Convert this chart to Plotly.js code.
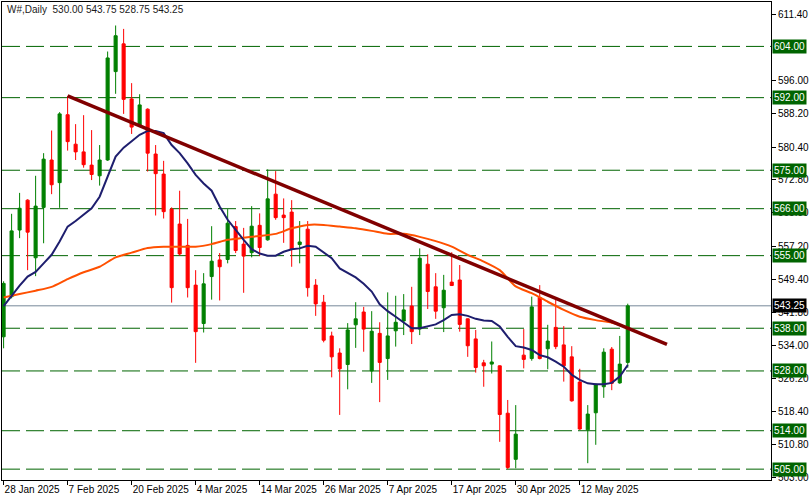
<!DOCTYPE html>
<html>
<head>
<meta charset="utf-8">
<script src="https://cdn.plot.ly/plotly-3.0.1.min.js"></script>
<style>html,body{margin:0;padding:0;background:#fff;}#chart{width:812px;height:501px;}</style>
</head>
<body>
<div id="chart"></div>
<script>
// ---- data ----
const dates = ["2025-01-28","2025-01-29","2025-01-30","2025-01-31","2025-02-03","2025-02-04","2025-02-05","2025-02-06","2025-02-07","2025-02-10",
"2025-02-11","2025-02-12","2025-02-13","2025-02-14","2025-02-18","2025-02-19","2025-02-20","2025-02-21","2025-02-24","2025-02-25",
"2025-02-26","2025-02-27","2025-02-28","2025-03-03","2025-03-04","2025-03-05","2025-03-06","2025-03-07","2025-03-10","2025-03-11",
"2025-03-12","2025-03-13","2025-03-14","2025-03-17","2025-03-18","2025-03-19","2025-03-20","2025-03-21","2025-03-24","2025-03-25",
"2025-03-26","2025-03-27","2025-03-28","2025-03-31","2025-04-01","2025-04-02","2025-04-03","2025-04-04","2025-04-07","2025-04-08",
"2025-04-09","2025-04-10","2025-04-11","2025-04-14","2025-04-15","2025-04-16","2025-04-17","2025-04-21","2025-04-22","2025-04-23",
"2025-04-24","2025-04-25","2025-04-28","2025-04-29","2025-04-30","2025-05-01","2025-05-02","2025-05-05","2025-05-06","2025-05-07",
"2025-05-08","2025-05-09","2025-05-12","2025-05-13","2025-05-14","2025-05-15","2025-05-16","2025-05-19","2025-05-20"];

const open  = [536.0,545.4,561.0,568.0,554.5,566.3,577.4,572.1,588.0,581.1,
579.3,576.2,573.7,577.4,598.1,604.6,591.7,585.6,589.3,578.8,
574.1,565.9,562.4,557.4,548.1,539.1,550.1,554.0,554.1,561.8,
557.7,555.7,562.1,558.7,569.4,564.5,565.2,557.6,561.2,548.1,
544.1,536.2,532.2,529.5,538.8,541.8,528.0,536.8,530.9,537.4,
539.7,543.2,537.8,553.0,547.7,542.8,548.8,549.3,540.2,535.5,
529.9,529.6,529.2,518.1,507.3,531.7,530.9,545.2,533.2,538.2,
534.1,531.3,525.4,514.2,518.2,524.3,533.1,525.2,530.00];
const high  = [549.0,564.8,569.7,568.2,573.7,579.0,584.3,588.6,592.4,585.8,
587.9,584.4,580.9,602.8,608.9,608.1,595.4,592.8,589.5,580.9,
577.2,566.3,570.2,563.6,551.6,550.9,561.9,555.6,565.9,563.1,
561.5,566.6,564.9,575.2,574.8,568.4,568.0,563.1,563.1,549.5,
545.8,537.2,533.3,539.2,544.1,543.0,542.0,539.4,546.4,545.6,
546.0,547.7,556.7,555.3,550.9,550.5,555.8,552.8,540.3,537.6,
530.6,534.9,529.3,521.2,520.0,537.8,545.4,548.1,538.8,544.8,
538.5,533.8,528.5,520.0,525.0,533.3,533.6,536.2,543.75];
const low   = [533.3,545.0,559.1,551.6,550.2,557.9,569.4,566.2,579.6,577.4,
575.6,572.7,571.4,577.2,592.9,588.2,583.5,585.3,574.7,564.4,
563.7,544.0,555.0,545.2,529.9,537.0,544.7,544.5,553.2,555.6,
546.3,554.6,554.9,558.5,563.4,558.0,552.4,553.2,545.4,540.9,
534.7,526.5,517.7,523.7,533.4,532.5,525.2,520.7,525.9,533.7,
536.4,534.3,536.4,542.5,540.2,537.1,548.0,537.2,531.3,527.6,
524.3,527.4,511.4,505.0,505.2,528.6,530.4,530.7,528.4,533.1,
525.5,520.8,514.2,506.4,510.7,521.7,523.5,525.0,528.75];
const close = [548.5,560.8,566.1,560.5,566.6,577.6,571.6,588.2,581.7,579.3,
576.3,574.0,577.4,601.3,606.5,591.6,585.1,590.3,579.0,574.2,
565.3,547.5,555.4,547.5,537.2,548.4,553.7,552.4,562.6,556.2,
554.9,561.9,556.9,568.3,563.9,563.9,556.5,558.2,547.5,543.7,
535.2,531.3,528.5,537.6,540.2,537.8,537.3,530.0,536.2,539.4,
542.3,537.2,554.4,546.6,542.0,546.9,548.0,538.9,533.9,528.8,
529.2,530.1,517.8,505.4,513.2,530.7,543.0,530.9,535.0,533.7,
529.2,521.0,514.4,517.9,524.9,532.4,525.1,529.6,543.25];

// fast moving average (navy), one value per bar
const maFast = [543.2,545.7,548.0,550.1,551.2,553.2,555.2,558.3,561.8,563.1,
564.7,566.1,568.8,573.5,578.2,580.3,581.7,583.3,584.2,584.2,
583.7,580.9,579.0,576.6,573.9,571.9,570.2,566.5,563.4,561.0,
558.7,556.5,555.5,555.0,555.0,555.9,556.5,556.7,557.3,557.1,
555.7,554.4,552.0,550.9,549.9,548.4,546.6,543.6,542.0,540.7,
539.4,538.0,538.0,538.4,538.9,539.9,541.1,541.3,540.9,540.2,
539.8,539.7,538.4,536.0,533.8,533.5,532.9,531.7,531.2,530.2,
529.0,527.1,525.9,525.1,524.9,524.9,525.2,526.7,529.4];

// slow moving average (orange), read every second bar
const maSlowIdx = [0,2,4,6,8,10,12,14,16,18,20,22,24,26,28,30,32,34,36,38,40,42,44,46,48,50,52,54,56,58,60,62,64,66,68,70,72,74,76,78];
const maSlow = [545.2,546.0,546.8,547.7,549.5,551.1,552.4,554.6,555.7,556.8,557.1,557.1,557.1,557.7,558.7,559.2,559.6,560.1,561.4,562.2,
562.2,561.8,561.4,560.8,560.1,560.1,559.4,558.4,557.1,555.2,553.6,551.6,547.8,546.2,544.2,542.3,540.7,539.9,539.3,538.2];

// trend line (bar index, price)
const trendIdx = [8, 82.9];
const trendPrice = [592.4, 534.2];

// horizontal levels
const levels = [604, 592, 575, 566, 555, 538, 528, 514, 505];
const lastPrice = 543.25;

// axis ticks
const xTickDates = ["2025-01-28","2025-02-07","2025-02-20","2025-03-04","2025-03-14","2025-03-26","2025-04-07","2025-04-17","2025-04-30","2025-05-12"];
const xTickLabels = ["28 Jan 2025","7 Feb 2025","20 Feb 2025","4 Mar 2025","14 Mar 2025","26 Mar 2025","7 Apr 2025","17 Apr 2025","30 Apr 2025","12 May 2025"];
const yTicks = [611.40,596.00,588.20,580.40,572.80,565.00,557.20,549.40,541.80,534.00,526.20,518.40,510.80,503.00];

// ---- build ----
const idx = dates.map((d, i) => i);
const FONT = "Liberation Sans, Arial, sans-serif";
const GREEN_LVL = "#006400";

const traces = [
  {
    type: "candlestick", x: idx, open: open, high: high, low: low, close: close,
    increasing: {line: {color: "#008000", width: 1}, fillcolor: "#008000"},
    decreasing: {line: {color: "#FF0000", width: 1}, fillcolor: "#FF0000"},
    whiskerwidth: 0, hoverinfo: "skip", showlegend: false
  },
  {
    type: "scatter", mode: "lines", x: maSlowIdx, y: maSlow,
    line: {color: "#FF5000", width: 2, shape: "spline", smoothing: 0.6}, hoverinfo: "skip", showlegend: false
  },
  {
    type: "scatter", mode: "lines", x: idx, y: maFast,
    line: {color: "#1E1E6E", width: 2}, hoverinfo: "skip", showlegend: false
  },
  {
    type: "scatter", mode: "lines", x: trendIdx, y: trendPrice,
    line: {color: "#800000", width: 3.5}, hoverinfo: "skip", showlegend: false
  }
];

const shapes = levels.map(v => ({
  type: "line", xref: "paper", x0: 0, x1: 1, yref: "y", y0: v, y1: v,
  line: {color: GREEN_LVL, width: 1, dash: "18px,6px"}, layer: "below"
}));
shapes.push({
  type: "line", xref: "paper", x0: 0, x1: 1, yref: "y", y0: lastPrice, y1: lastPrice,
  line: {color: "#778899", width: 1}, layer: "below"
});

const annotations = levels.map(v => ({
  xref: "paper", x: 1, xanchor: "left", xshift: 1, yref: "y", y: v, yanchor: "middle",
  text: v.toFixed(2), showarrow: false, bgcolor: GREEN_LVL, borderpad: 1,
  font: {family: FONT, size: 10, color: "#ffffff"}
}));
annotations.push({
  xref: "paper", x: 1, xanchor: "left", xshift: 1, yref: "y", y: lastPrice, yanchor: "middle",
  text: lastPrice.toFixed(2), showarrow: false, bgcolor: "#000000", borderpad: 1,
  font: {family: FONT, size: 10, color: "#ffffff"}
});

const n = dates.length - 1;
const titleText = "W#,Daily\u00a0\u00a0" + [open[n], high[n], low[n], close[n]].map(v => v.toFixed(2)).join(" ");

const layout = {
  width: 812, height: 501,
  margin: {l: 2, r: 41, t: 2, b: 21, pad: 0},
  paper_bgcolor: "#ffffff", plot_bgcolor: "#ffffff",
  font: {family: FONT, size: 10, color: "#000000"},
  title: {text: titleText, xref: "container", x: 7/812, xanchor: "left",
          yref: "container", y: 1 - 6/501, yanchor: "top",
          font: {family: FONT, size: 10, color: "#1a1a1a"}},
  showlegend: false,
  boxgap: 0.45,
  xaxis: {
    type: "linear", range: [-0.2, 95.9],
    tickvals: xTickDates.map(d => dates.indexOf(d)), ticktext: xTickLabels,
    ticks: "outside", ticklen: 4, tickcolor: "#000", tickwidth: 1,
    ticklabelposition: "outside right", tickangle: 0, automargin: false,
    showline: true, linecolor: "#000", linewidth: 1, mirror: true,
    showgrid: false, zeroline: false, rangeslider: {visible: false},
    tickfont: {family: FONT, size: 10, color: "#000"}, fixedrange: true
  },
  yaxis: {
    side: "right", range: [502.46, 614.4], automargin: false,
    tickvals: yTicks, ticktext: yTicks.map(v => v.toFixed(2)),
    ticks: "outside", ticklen: 4, tickcolor: "#000", tickwidth: 1,
    showline: true, linecolor: "#000", linewidth: 1, mirror: true,
    showgrid: false, zeroline: false,
    tickfont: {family: FONT, size: 10, color: "#000"}, fixedrange: true
  },
  shapes: shapes,
  annotations: annotations
};

Plotly.newPlot("chart", traces, layout, {displayModeBar: false, staticPlot: true});
</script>
</body>
</html>
